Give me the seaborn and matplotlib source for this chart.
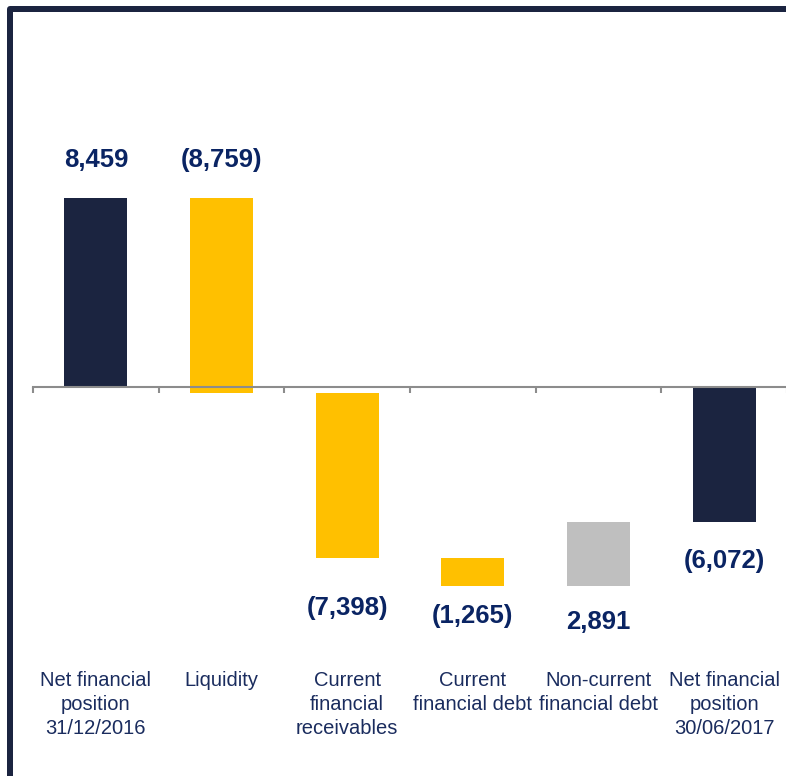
import matplotlib
matplotlib.use("Agg")
import matplotlib.pyplot as plt
import matplotlib.transforms as mtransforms
from matplotlib.lines import Line2D
import seaborn as sns
import pandas as pd

# ---------------- data ----------------
categories = [
    "Net financial\nposition\n31/12/2016",
    "Liquidity",
    "Current\nfinancial\nreceivables",
    "Current\nfinancial debt",
    "Non-current\nfinancial debt",
    "Net financial\nposition\n30/06/2017",
]
values = [8459, -8759, -7398, -1265, 2891, -6072]
is_total = [True, False, False, False, False, True]
value_labels = ["8,459", "(8,759)", "(7,398)", "(1,265)", "2,891", "(6,072)"]

# ---------------- style ----------------
W, H, DPI = 786, 776, 100
NAVY = "#1b2440"
YELLOW = "#ffc000"
GREY = "#bfbfbf"
LABEL_NAVY = "#0a2463"
CAT_NAVY = "#1a2c5e"
AXIS_GREY = "#8c8c8c"

sns.set_theme(style="white")
plt.rcParams["font.family"] = ["Liberation Sans", "DejaVu Sans"]

# waterfall geometry from data
starts, ends, colors = [], [], []
running = 0
for v, t in zip(values, is_total):
    if t:
        s, e = 0, v
        running = v
        colors.append(NAVY)
    else:
        s, e = running, running + v
        running = e
        colors.append(YELLOW if v < 0 else GREY)
    starts.append(s)
    ends.append(e)

df = pd.DataFrame({"cat": categories, "h": [e - s for s, e in zip(starts, ends)]})

fig = plt.figure(figsize=(W / DPI, H / DPI), dpi=DPI)
ax_left_px, ax_right_px = 33, 787
ax_top_px, ax_bot_px = 20, 776
zero_px = 386.5
units_per_px = 44.93
ax = fig.add_axes([ax_left_px / W, 1 - ax_bot_px / H,
                   (ax_right_px - ax_left_px) / W, (ax_bot_px - ax_top_px) / H])

sns.barplot(data=df, x="cat", y="h", hue="cat", palette=dict(zip(categories, colors)),
            width=0.5, legend=False, saturation=1, linewidth=0, ax=ax)

for p in ax.patches:
    idx = int(round(p.get_x() + p.get_width() / 2))
    lo, hi = min(starts[idx], ends[idx]), max(starts[idx], ends[idx])
    p.set_y(lo)
    p.set_height(hi - lo)

ax.set_xlim(-0.5, len(categories) - 0.5)
ax.set_ylim(-(ax_bot_px - zero_px) * units_per_px, (zero_px - ax_top_px) * units_per_px)

for side in ["left", "right", "top"]:
    ax.spines[side].set_visible(False)
ax.spines["bottom"].set_position(("data", 0))
ax.spines["bottom"].set_color(AXIS_GREY)
ax.spines["bottom"].set_linewidth(1.5)
ax.set_yticks([])
ax.set_xticks(range(len(categories)))
ax.set_xticklabels([])
ax.set_xticks([i - 0.5 for i in range(len(categories) + 1)], minor=True)
ax.tick_params(axis="x", which="major", length=0)
ax.tick_params(axis="x", which="minor", length=4.5, width=1.5, color=AXIS_GREY, direction="out", bottom=True)
ax.set_xlabel("")
ax.set_ylabel("")

# value labels (baseline offsets in pixels from the bar end)
label_offsets = [31.5, 31.5, -57, -37, -43, -46]
for i, (lab, off) in enumerate(zip(value_labels, label_offsets)):
    top = max(starts[i], ends[i])
    bot = min(starts[i], ends[i])
    anchor = top if off > 0 else bot
    ax.annotate(lab, xy=(i, anchor), xytext=(0, off), textcoords="offset pixels",
                ha="center", va="baseline", fontsize=18.5, fontweight="bold", color=LABEL_NAVY)

# category labels
trans = mtransforms.blended_transform_factory(ax.transData, fig.transFigure)
for i, c in enumerate(categories):
    ax.text(i, 1 - 671 / H, c, transform=trans, ha="center", va="top",
            fontsize=14.5, color=CAT_NAVY, linespacing=1.33)

# frame (left + top border)
fig.add_artist(Line2D([9.5 / W, 9.5 / W, 800 / W], [-0.05, 1 - 9 / H, 1 - 9 / H],
                      transform=fig.transFigure, color=NAVY, lw=6 * 0.72,
                      solid_joinstyle="round", solid_capstyle="butt"))

fig.savefig("out.png", dpi=DPI)
